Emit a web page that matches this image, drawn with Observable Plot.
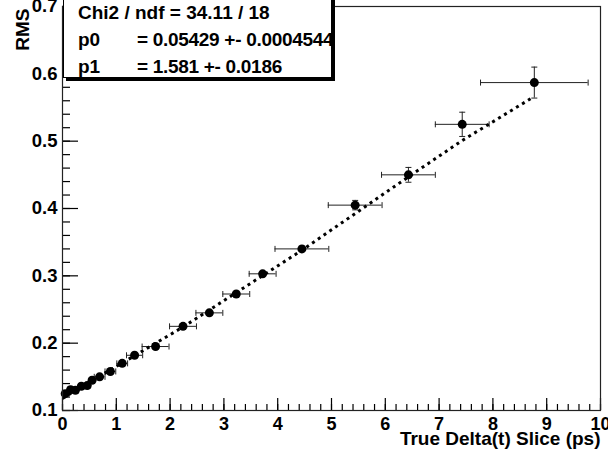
<!DOCTYPE html>
<html><head><meta charset="utf-8">
<script src="https://cdn.jsdelivr.net/npm/d3@7"></script>
<script src="https://cdn.jsdelivr.net/npm/@observablehq/plot@0.6"></script>
<style>
body{margin:0;background:#fff;}
#wrap{position:relative;width:608px;height:458px;overflow:hidden;font-family:"Liberation Sans",Arial,sans-serif;font-weight:bold;color:#000;}
#wrap svg{position:absolute;left:0;top:0;}
#stats{position:absolute;left:63px;top:-20px;width:267px;height:96px;border:1px solid #000;box-shadow:3px 3px 0 #000;background:#fff;}
.row{position:absolute;font-size:19px;line-height:19px;white-space:nowrap;}
.val{letter-spacing:-0.3px;}
</style></head>
<body><div id="wrap"></div>
<script>
// Data points (true Delta(t) slice, RMS)
const xVal = [0.05, 0.15, 0.24, 0.35, 0.46, 0.55, 0.69, 0.89, 1.11, 1.34, 1.73, 2.24, 2.73, 3.23, 3.72, 4.45, 5.44, 6.43, 7.43, 8.77];
const yVal = [0.125, 0.131, 0.130, 0.136, 0.137, 0.145, 0.150, 0.158, 0.170, 0.182, 0.195, 0.225, 0.245, 0.273, 0.303, 0.340, 0.405, 0.450, 0.525, 0.587];
const xErr = [0.05, 0.05, 0.05, 0.05, 0.05, 0.05, 0.1, 0.1, 0.1, 0.15, 0.25, 0.25, 0.25, 0.25, 0.25, 0.5, 0.5, 0.5, 0.5, 1.0];
const yErr = [0.002, 0.002, 0.002, 0.002, 0.002, 0.002, 0.002, 0.002, 0.002, 0.002, 0.002, 0.002, 0.003, 0.003, 0.003, 0.004, 0.007, 0.011, 0.018, 0.023];
// Fit curve
const fitX = [0.0, 2.24, 4.45, 6.43, 7.43, 8.70];
const fitY = [0.118, 0.224, 0.338, 0.447, 0.501, 0.563];
// Axis ticks
const xMajor = [0, 1, 2, 3, 4, 5, 6, 7, 8, 9, 10];
const xMinor = d3.range(0, 10.001, 0.2).map(v => +v.toFixed(2));
const yMajor = [0.1, 0.2, 0.3, 0.4, 0.5, 0.6, 0.7];
const yMinor = d3.range(0.1, 0.7001, 0.02).map(v => +v.toFixed(2));
// Texts
const xTitle = "True Delta(t) Slice (ps)";
const yTitle = "RMS";
const statLines = [["Chi2 / ndf = 34.11 / 18", ""], ["p0", "= 0.05429 +- 0.0004544"], ["p1", "= 1.581 +- 0.0186"]];

const pts = xVal.map((x, i) => ({x, y: yVal[i], ex: xErr[i], ey: yErr[i]}));
const fit = fitX.map((x, i) => ({x, y: fitY[i]}));

const capV = {draw(ctx) { ctx.moveTo(0, -3); ctx.lineTo(0, 3); }};
const capH = {draw(ctx) { ctx.moveTo(-3, 0); ctx.lineTo(3, 0); }};
const barColor = "#222";

const chart = Plot.plot({
  width: 608, height: 458,
  marginLeft: 62, marginRight: 8, marginTop: 6, marginBottom: 48,
  x: {domain: [0, 10]},
  y: {domain: [0.1, 0.7]},
  style: {fontFamily: "'Liberation Sans', Arial, sans-serif", fontWeight: "bold", fontSize: "19px", background: "transparent", overflow: "visible", color: "black"},
  marks: [
    Plot.axisX(xMinor, {tickSize: -6, tickFormat: () => "", label: null, strokeWidth: 1.2}),
    Plot.axisX(xMajor, {tickSize: -12, tickFormat: () => "", label: null, strokeWidth: 1.2}),
    Plot.axisX(xMajor, {tickSize: 0, tickPadding: 7, fontSize: 18, tickFormat: d => String(d), label: null}),
    Plot.axisY(yMinor, {tickSize: -8, tickFormat: () => "", label: null, strokeWidth: 1.2}),
    Plot.axisY(yMajor, {tickSize: -16, tickFormat: () => "", label: null, strokeWidth: 1.2}),
    Plot.axisY(yMajor, {tickSize: 0, tickPadding: 5, fontSize: 18.5, tickFormat: d3.format(".1f"), label: null}),
    Plot.ruleY(pts, {y: "y", x1: d => d.x - d.ex, x2: d => d.x + d.ex, stroke: barColor, strokeWidth: 1}),
    Plot.ruleX(pts, {x: "x", y1: d => d.y - d.ey, y2: d => d.y + d.ey, stroke: barColor, strokeWidth: 1}),
    Plot.dot(pts, {x: d => d.x - d.ex, y: "y", symbol: capV, stroke: barColor, strokeWidth: 1, r: 3}),
    Plot.dot(pts, {x: d => d.x + d.ex, y: "y", symbol: capV, stroke: barColor, strokeWidth: 1, r: 3}),
    Plot.dot(pts, {x: "x", y: d => d.y - d.ey, symbol: capH, stroke: barColor, strokeWidth: 1, r: 3}),
    Plot.dot(pts, {x: "x", y: d => d.y + d.ey, symbol: capH, stroke: barColor, strokeWidth: 1, r: 3}),
    Plot.dot(pts, {x: "x", y: "y", r: 4.5, fill: "black"}),
    Plot.line(fit, {x: "x", y: "y", stroke: "black", strokeWidth: 3, strokeDasharray: "3,4", strokeLinecap: "butt", strokeLinejoin: "miter"}),
    Plot.frame({stroke: "#222", strokeWidth: 1.2}),
    Plot.text([xTitle], {frameAnchor: "bottom-right", dy: 34, textAnchor: "end", text: d => d}),
    Plot.text([yTitle], {frameAnchor: "top-left", rotate: -90, textAnchor: "end", dx: -47, dy: 2, text: d => d})
  ]
});

const wrap = document.getElementById("wrap");
wrap.appendChild(chart);
const box = document.createElement("div");
box.id = "stats";
wrap.appendChild(box);
const tops = [3, 30, 57];
statLines.forEach(([a, b], i) => {
  const r1 = document.createElement("div");
  r1.className = "row"; r1.style.left = "78px"; r1.style.top = tops[i] + "px"; r1.textContent = a;
  wrap.appendChild(r1);
  if (b) {
    const r2 = document.createElement("div");
    r2.className = "row val"; r2.style.left = "137px"; r2.style.top = tops[i] + "px"; r2.textContent = b;
    wrap.appendChild(r2);
  }
});
</script>
</body></html>
